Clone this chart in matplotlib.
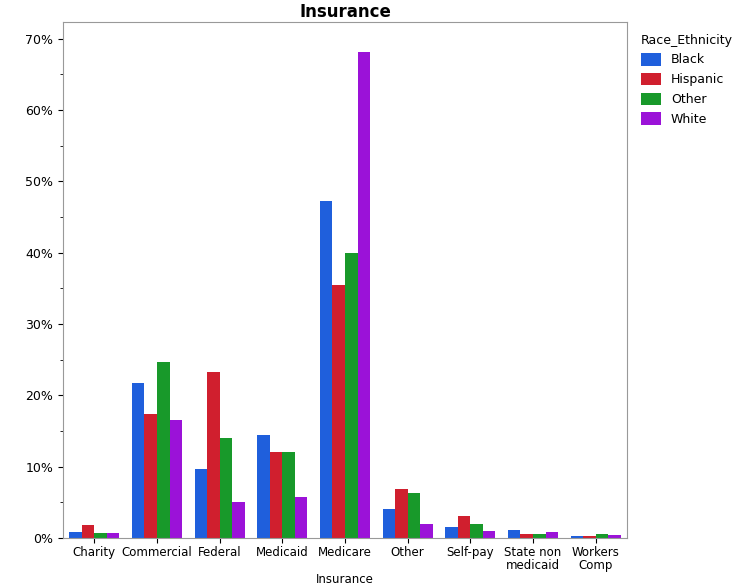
import numpy as np
import matplotlib.pyplot as plt
from matplotlib.ticker import MultipleLocator, FuncFormatter

# data (percent)
categories = ["Charity", "Commercial", "Federal", "Medicaid", "Medicare", "Other",
              "Self-pay", "State non\nmedicaid", "Workers\nComp"]
black = [0.8, 21.7, 9.6, 14.4, 47.3, 4.0, 1.5, 1.1, 0.3]
hispanic = [1.8, 17.4, 23.2, 12.0, 35.5, 6.9, 3.1, 0.6, 0.3]
other = [0.7, 24.7, 14.0, 12.0, 39.9, 6.3, 2.0, 0.5, 0.6]
white = [0.7, 16.5, 5.0, 5.8, 68.1, 2.0, 1.0, 0.8, 0.4]

series = [("Black", black, "#1f5fdc"), ("Hispanic", hispanic, "#d01f2e"),
          ("Other", other, "#18992a"), ("White", white, "#9b12d8")]

fig = plt.figure(figsize=(7.5, 5.86), dpi=100)
ax = fig.add_axes([0.084, 0.082, 0.752, 0.88])

x = np.arange(len(categories))
w = 0.2
for i, (name, vals, col) in enumerate(series):
    ax.bar(x + (i - 1.5) * w, vals, w, color=col, label=name)

ax.set_xlim(-0.5, len(categories) - 0.5)
ax.set_ylim(0, 72.3)
ax.yaxis.set_major_locator(MultipleLocator(10))
ax.yaxis.set_minor_locator(MultipleLocator(5))
ax.yaxis.set_major_formatter(FuncFormatter(lambda v, p: f"{v:.0f}%"))
ax.set_xticks(x)
ax.set_xticklabels(categories, fontsize=8.5, linespacing=1.0)
ax.tick_params(axis="x", pad=2)
ax.tick_params(axis="y", labelsize=9)
for s in ax.spines.values():
    s.set_color("#999999")
ax.set_title("Insurance", fontsize=12, fontweight="bold", pad=4)
ax.set_xlabel("Insurance", fontsize=8.5, labelpad=1)

leg = ax.legend(title="Race_Ethnicity", loc="upper left", bbox_to_anchor=(1.005, 1.0),
                frameon=False, fontsize=9, title_fontsize=9, handlelength=1.6,
                handleheight=1.2, alignment="left")

fig.savefig("out.png")
